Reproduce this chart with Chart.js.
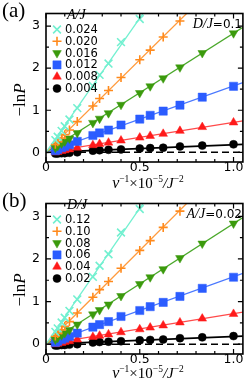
<!DOCTYPE html>
<html>
<head>
<meta charset="utf-8">
<script src="https://cdn.jsdelivr.net/npm/chart.js@4.4.1/dist/chart.umd.min.js"></script>
<style>
  body { margin: 0; background: #fff; }
  canvas { display: block; }
</style>
</head>
<body>
<canvas id="panelA" width="250" height="190"></canvas>
<canvas id="panelB" width="250" height="192"></canvas>
<script>
// v^-1 values (x10^-5 / J^-2)
const vInv = [0.05, 0.0625, 0.0833, 0.1, 0.125, 0.1667, 0.25, 0.2857, 0.3333, 0.4, 0.5, 0.5556, 0.625, 0.7143, 0.8333, 1.0];

// -ln P for each curve (null = off the top of the plot)
const cyanVals   = [0.29, 0.37, 0.51, 0.62, 0.78, 1.05, 1.58, 1.84, 2.11, 2.62, 3.17, null, null, null, null, null];
const orangeVals = [0.19, 0.25, 0.34, 0.42, 0.53, 0.73, 1.10, 1.28, 1.47, 1.78, 2.20, 2.43, 2.74, 3.12, null, null];
const greenVals  = [0.11, 0.15, 0.21, 0.26, 0.33, 0.46, 0.70, 0.80, 0.93, 1.13, 1.41, 1.57, 1.76, 2.02, 2.36, 2.83];
const blueVals   = [0.04, 0.07, 0.11, 0.14, 0.18, 0.26, 0.40, 0.46, 0.53, 0.65, 0.79, 0.88, 0.98, 1.12, 1.31, 1.57];
const redVals    = [0.00, 0.01, 0.03, 0.05, 0.07, 0.11, 0.17, 0.20, 0.23, 0.28, 0.35, 0.39, 0.44, 0.51, 0.60, 0.71];
const blackVals  = [-0.03, -0.03, -0.02, -0.02, -0.01, 0.00, 0.04, 0.05, 0.06, 0.07, 0.09, 0.10, 0.11, 0.14, 0.16, 0.19];

// fitted straight lines: value at the right edge (x = 1.05), through the origin
const fitX = [0, 1.05];
const fitEnds = [6.70, 4.62, 2.97, 1.66, 0.75, 0.19];

// legend texts
const labelsA = ['0.024', '0.020', '0.016', '0.012', '0.008', '0.004'];
const labelsB = ['0.12', '0.10', '0.08', '0.06', '0.04', '0.02'];

// ticks
const xTickVals = [0, 0.5, 1.0];
const xTickLabels = ['0', '0.5', '1.0'];
const yTickVals = [0, 1, 2, 3];
const xMinorStep = 0.1;
const yMinorStep = 0.5;

const seriesVals = [cyanVals, orangeVals, greenVals, blueVals, redVals, blackVals];
const styles = [
  { color: '#72f0d0', line: '#72f0d0', point: 'crossRot', radius: 5.5, rot: 0, lw: 1.3 },
  { color: '#ff8a1c', line: '#ff9a3c', point: 'cross', radius: 4.5, rot: 0, lw: 1.3 },
  { color: '#3b9a0c', line: '#4aa82a', point: 'triangle', radius: 5, rot: 180, lw: 1.3 },
  { color: '#2b5cff', line: '#4a78ff', point: 'rect', radius: 5.8, rot: 0, lw: 1.3 },
  { color: '#ff1a1a', line: '#ff4a4a', point: 'triangle', radius: 5, rot: 0, lw: 1.3 },
  { color: '#000000', line: '#000000', point: 'circle', radius: 4, rot: 0, lw: 1.7 }
];

const SERIF = '"Liberation Serif", "DejaVu Serif", serif';
const SANS = '"DejaVu Sans", "Liberation Sans", sans-serif';

// draw a run of text pieces (font + vertical shift) centred on x
function drawRun(ctx, parts, cx, y) {
  let total = 0;
  parts.forEach(p => { ctx.font = p.font; total += ctx.measureText(p.t).width; });
  let x = cx - total / 2;
  ctx.textAlign = 'left';
  ctx.textBaseline = 'alphabetic';
  parts.forEach(p => {
    ctx.font = p.font;
    ctx.fillText(p.t, x, y + (p.dy || 0));
    x += ctx.measureText(p.t).width;
  });
}

function isCross(s) { return s.point === 'cross' || s.point === 'crossRot'; }

function makePanel(id, tag, legTitle, legLabels, cornerSym, cornerVal) {
  const datasets = [];

  // dashed zero line
  datasets.push({
    data: fitX.map(x => ({ x: x, y: 0 })),
    showLine: true, borderColor: '#000', borderWidth: 1.5, borderDash: [7, 4],
    pointRadius: 0, order: 20
  });

  // fit lines
  fitEnds.forEach((e, i) => {
    datasets.push({
      data: [{ x: fitX[0], y: 0 }, { x: fitX[1], y: e }],
      showLine: true, borderColor: styles[i].line, borderWidth: styles[i].lw,
      pointRadius: 0, order: 10 + i
    });
  });

  // markers
  seriesVals.forEach((vals, i) => {
    const s = styles[i];
    datasets.push({
      data: vInv.map((x, k) => ({ x: x, y: vals[k] })).filter(p => p.y !== null),
      showLine: false,
      pointStyle: s.point, pointRadius: s.radius, pointRotation: s.rot,
      pointBackgroundColor: s.color, pointBorderColor: s.color,
      pointBorderWidth: isCross(s) ? 1.6 : 0.5,
      order: i
    });
  });

  const framePlugin = {
    id: 'frame' + id,
    afterDraw(chart) {
      const ctx = chart.ctx;
      const a = chart.chartArea;
      const xs = chart.scales.x, ys = chart.scales.y;
      ctx.save();
      ctx.strokeStyle = '#000';
      ctx.fillStyle = '#000';

      // inward ticks on all four sides
      ctx.lineWidth = 1.2;
      ctx.beginPath();
      for (let v = 0; v <= 1.05 + 1e-9; v += xMinorStep) {
        const px = xs.getPixelForValue(v);
        const major = Math.abs(v * 2 - Math.round(v * 2)) < 1e-6;
        const len = major ? 5 : 3;
        ctx.moveTo(px, a.bottom); ctx.lineTo(px, a.bottom - len);
        ctx.moveTo(px, a.top); ctx.lineTo(px, a.top + len);
      }
      for (let v = 0; v <= 3.3 + 1e-9; v += yMinorStep) {
        const py = ys.getPixelForValue(v);
        const major = Math.abs(v - Math.round(v)) < 1e-6;
        const len = major ? 5 : 3;
        ctx.moveTo(a.left, py); ctx.lineTo(a.left + len, py);
        ctx.moveTo(a.right, py); ctx.lineTo(a.right - len, py);
      }
      ctx.stroke();

      // frame
      ctx.lineWidth = 1.6;
      ctx.strokeRect(a.left, a.top, a.right - a.left, a.bottom - a.top);

      // panel tag
      ctx.font = '21px ' + SERIF;
      ctx.textAlign = 'left';
      ctx.textBaseline = 'alphabetic';
      ctx.fillText(tag, 2, 17);

      // y title, rotated
      ctx.save();
      ctx.translate(25, 100);
      ctx.rotate(-Math.PI / 2);
      drawRun(ctx, [
        { t: '\u2212ln', font: '17px ' + SERIF },
        { t: 'P', font: 'italic 17px ' + SERIF }
      ], 0, 0);
      ctx.restore();

      // x title
      drawRun(ctx, [
        { t: 'v', font: 'italic 16px ' + SERIF },
        { t: '\u22121', font: '9.5px ' + SERIF, dy: -6 },
        { t: '\u00d710', font: '15px ' + SERIF },
        { t: '\u22125', font: '9.5px ' + SERIF, dy: -6 },
        { t: '/', font: 'italic 15px ' + SERIF },
        { t: 'J', font: 'italic 15px ' + SERIF },
        { t: '\u22122', font: '9.5px ' + SERIF, dy: -6 }
      ], 148, 188);

      // legend
      ctx.font = 'italic 14px ' + SERIF;
      ctx.fillText(legTitle, 67, 19);
      legLabels.forEach((lab, i) => {
        const s = styles[i];
        const y = 29.5 + i * 11.8;
        ctx.fillStyle = s.color;
        ctx.strokeStyle = s.color;
        ctx.lineWidth = isCross(s) ? 1.6 : 0.5;
        Chart.helpers.drawPoint(ctx, { pointStyle: s.point, radius: s.radius, rotation: s.rot, borderWidth: ctx.lineWidth }, 57, y);
        ctx.fillStyle = '#000';
        ctx.font = '11.5px ' + SANS;
        ctx.textBaseline = 'middle';
        ctx.fillText(lab, 65, y + 0.5);
        ctx.textBaseline = 'alphabetic';
      });

      // fixed parameter, top right
      ctx.fillStyle = '#000';
      const symFont = 'italic 14px ' + SERIF;
      const valFont = '12px ' + SANS;
      ctx.font = valFont;
      const wVal = ctx.measureText(cornerVal).width;
      ctx.font = symFont;
      const wSym = ctx.measureText(cornerSym).width;
      const right = 242;
      ctx.textAlign = 'left';
      ctx.fillText(cornerSym, right - wVal - wSym, 28);
      ctx.font = valFont;
      ctx.fillText(cornerVal, right - wVal, 28);

      ctx.restore();
    }
  };

  return new Chart(document.getElementById(id), {
    type: 'scatter',
    data: { datasets: datasets },
    options: {
      responsive: false,
      animation: false,
      devicePixelRatio: 1,
      layout: { padding: { left: 0, right: 1, top: 10, bottom: 0 } },
      plugins: { legend: { display: false }, tooltip: { enabled: false } },
      scales: {
        x: {
          type: 'linear', min: 0, max: 1.05,
          grid: { display: false, drawTicks: false },
          border: { display: false },
          afterBuildTicks: s => { s.ticks = xTickVals.map(v => ({ value: v })); },
          afterFit: s => { s.height = 28; },
          ticks: {
            padding: -2, color: '#000', maxRotation: 0,
            font: { family: SANS, size: 12.5 },
            callback: (v, i) => xTickLabels[i]
          }
        },
        y: {
          type: 'linear', min: -0.23, max: 3.3,
          grid: { display: false, drawTicks: false },
          border: { display: false },
          afterBuildTicks: s => { s.ticks = yTickVals.map(v => ({ value: v })); },
          afterFit: s => { s.width = 46; },
          ticks: {
            padding: 6, color: '#000',
            font: { family: SANS, size: 12.5 },
            callback: v => String(v)
          }
        }
      }
    },
    plugins: [framePlugin]
  });
}

makePanel('panelA', '(a)', 'A/J', labelsA, 'D/J', '=0.1');
makePanel('panelB', '(b)', 'D/J', labelsB, 'A/J', '=0.02');
</script>
</body>
</html>
